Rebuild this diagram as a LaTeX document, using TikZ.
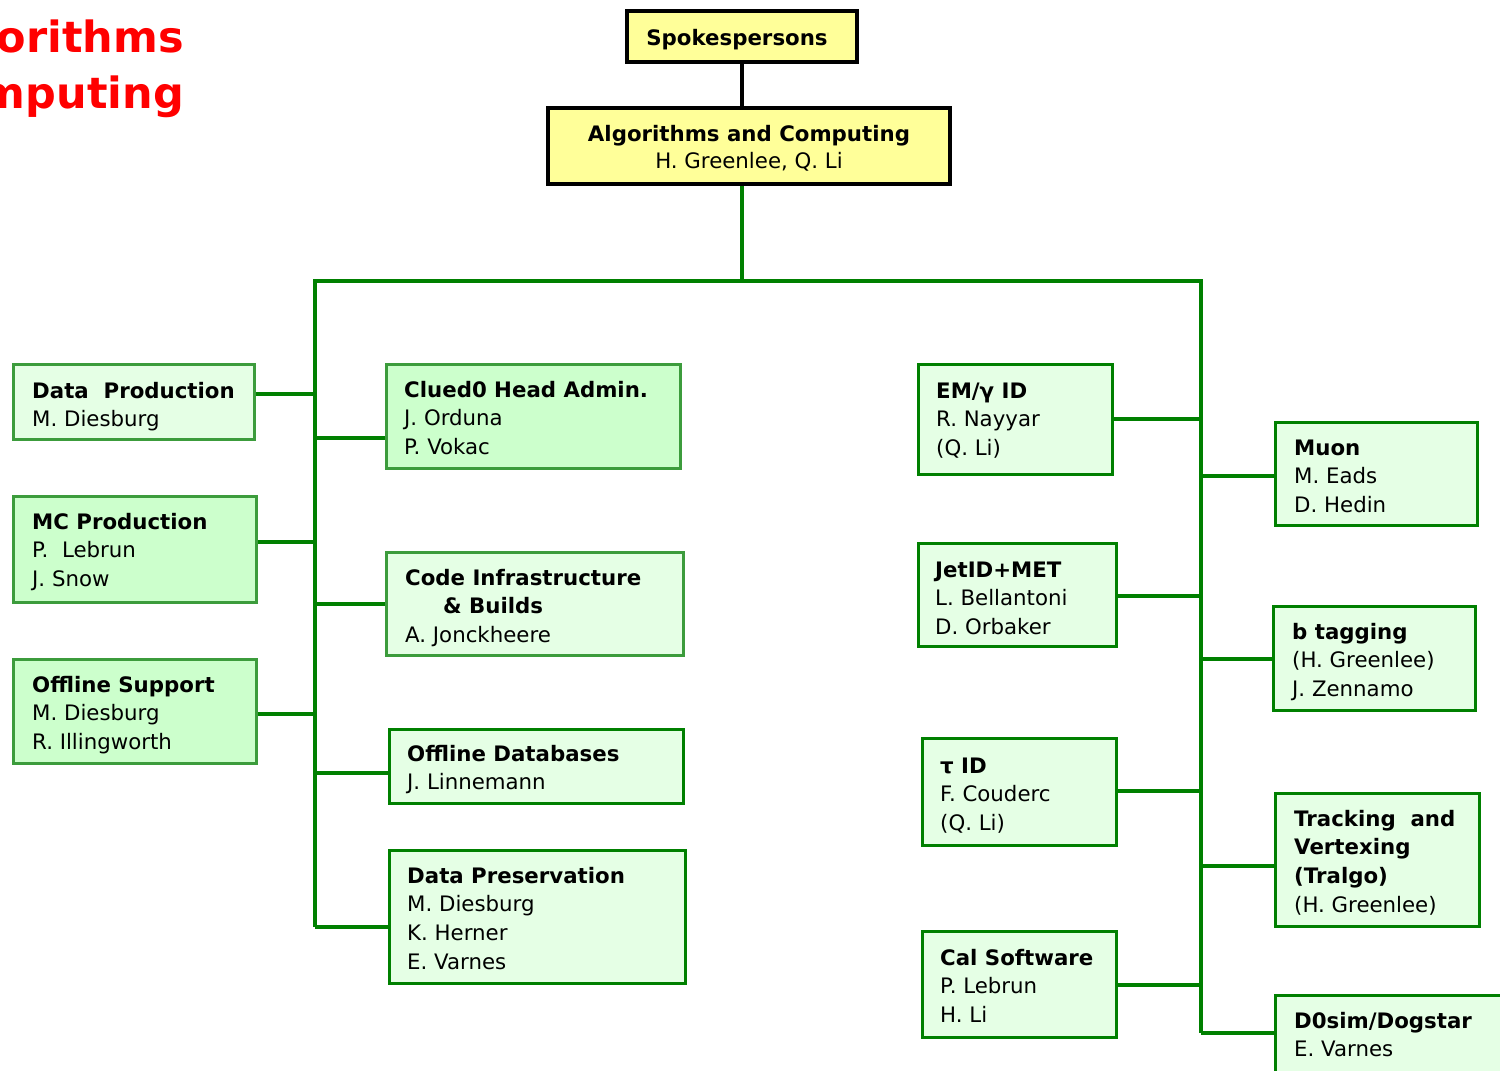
\documentclass[tikz,border=0pt]{standalone}
\usepackage{fontspec}
\setmainfont{DejaVu Sans}
\definecolor{ybox}{HTML}{FFFF99}
\definecolor{gdark}{HTML}{008000}
\definecolor{glight}{HTML}{3C9C3C}
\definecolor{fl}{HTML}{E5FFE5}
\definecolor{fd}{HTML}{CCFFCC}
\definecolor{titlered}{HTML}{FF0000}
\newcommand{\bxt}[1]{\begin{tabular}[t]{@{}l@{}}#1\end{tabular}}
\pgfdeclarelayer{bg}
\pgfsetlayers{bg,main}
\tikzset{
  yb/.style={draw=black, line width=4pt, fill=ybox, rectangle, inner sep=0},
  gbl/.style={draw=glight, line width=3.5pt, fill=fl, rectangle, inner sep=0},
  gbd/.style={draw=glight, line width=3.5pt, fill=fd, rectangle, inner sep=0},
  gbdk/.style={draw=gdark, line width=3.5pt, fill=fl, rectangle, inner sep=0},
  txt/.style={anchor=base west, inner sep=0, font=\fontsize{21.3}{28.7}\selectfont},
  ctxt/.style={anchor=base, inner sep=0, font=\fontsize{21.3}{28.7}\selectfont},
  conn/.style={draw=gdark, line width=3.5pt},
  bconn/.style={draw=black, line width=4pt},
}
\begin{document}
\begin{tikzpicture}[x=1pt,y=-1pt]
\useasboundingbox (0,0) rectangle (1500,1071);
\clip (0,0) rectangle (1500,1071);

% title
\node[anchor=base east, inner sep=0, text=titlered, font=\fontsize{43}{50}\selectfont\bfseries] (t1) at (184,52) {Algorithms};
\node[anchor=base east, inner sep=0, text=titlered, font=\fontsize{43}{50}\selectfont\bfseries] (t2) at (184,108) {Computing};

% top boxes
\node[yb, minimum width=230pt, minimum height=51pt] (sp) at (742,36.5) {};
\node[ctxt, font=\fontsize{21.3}{28.7}\selectfont\bfseries] (spT) at (737,45) {Spokespersons};
\node[yb, minimum width=402pt, minimum height=76pt] (ac) at (749,146) {};
\node[ctxt, font=\fontsize{21.3}{28.7}\selectfont\bfseries] (acT) at (749,141) {Algorithms and Computing};
\node[ctxt] (acT2) at (749,168) {H. Greenlee, Q. Li};

% left column
\node[gbl, minimum width=241pt, minimum height=75pt] (dp) at (134,402) {};
\node[txt] (dpT) at (32,398) {\bxt{\textbf{Data\ \ Production}\\M. Diesburg}};
\node[gbd, minimum width=243pt, minimum height=106pt] (mc) at (135,549.5) {};
\node[txt] (mcT) at (32,529) {\bxt{\textbf{MC Production}\\P.\ \ Lebrun\\J. Snow}};
\node[gbd, minimum width=243pt, minimum height=104pt] (os) at (135,711.5) {};
\node[txt] (osT) at (32,692) {\bxt{\textbf{Offline Support}\\M. Diesburg\\R. Illingworth}};

% middle column
\node[gbd, minimum width=294pt, minimum height=104pt] (cl) at (533.5,416.5) {};
\node[txt] (clT) at (404,397) {\bxt{\textbf{Clued0 Head Admin.}\\J. Orduna\\P. Vokac}};
\node[gbl, minimum width=297pt, minimum height=103pt] (ci) at (535,604) {};
\node[txt] (ciT) at (405,585) {\bxt{\textbf{Code Infrastructure}\\\hspace{38pt}\textbf{\& Builds}\\A. Jonckheere}};
\node[gbdk, minimum width=294pt, minimum height=74pt] (od) at (536.5,766.5) {};
\node[txt] (odT) at (407,761) {\bxt{\textbf{Offline Databases}\\J. Linnemann}};
\node[gbdk, minimum width=296pt, minimum height=133pt] (dpr) at (537.5,917) {};
\node[txt] (dprT) at (407,883) {\bxt{\textbf{Data Preservation}\\M. Diesburg\\K. Herner\\E. Varnes}};

% right-middle column
\node[gbdk, minimum width=194pt, minimum height=110pt] (em) at (1015.5,419.5) {};
\node[txt] (emT) at (936,398) {\bxt{\textbf{EM/γ ID}\\R. Nayyar\\(Q. Li)}};
\node[gbdk, minimum width=198pt, minimum height=103pt] (jet) at (1017.5,595) {};
\node[txt] (jetT) at (935,577) {\bxt{\textbf{JetID+MET}\\L. Bellantoni\\D. Orbaker}};
\node[gbdk, minimum width=194pt, minimum height=107pt] (tau) at (1019.5,792) {};
\node[txt] (tauT) at (940,773) {\bxt{\textbf{τ ID}\\F. Couderc\\(Q. Li)}};
\node[gbdk, minimum width=194pt, minimum height=106pt] (cal) at (1019.5,984.5) {};
\node[txt] (calT) at (940,965) {\bxt{\textbf{Cal Software}\\P. Lebrun\\H. Li}};

% right column
\node[gbdk, minimum width=202pt, minimum height=103pt] (mu) at (1376.5,474) {};
\node[txt] (muT) at (1294,455) {\bxt{\textbf{Muon}\\M. Eads\\D. Hedin}};
\node[gbdk, minimum width=202pt, minimum height=104pt] (bt) at (1374.5,658.5) {};
\node[txt] (btT) at (1292,639) {\bxt{\textbf{b tagging}\\(H. Greenlee)\\J. Zennamo}};
\node[gbdk, minimum width=204pt, minimum height=133pt] (tr) at (1377.5,860) {};
\node[txt] (trT) at (1294,826) {\bxt{\textbf{Tracking\ \ and}\\\textbf{Vertexing}\\\textbf{(Tralgo)}\\(H. Greenlee)}};
\node[gbdk, minimum width=244.5pt, minimum height=94.5pt] (ds) at (1397.75,1042.75) {};
\node[txt] (dsT) at (1294,1028) {\bxt{\textbf{D0sim/Dogstar}\\E. Varnes}};

% trunk coordinates
\coordinate (lt) at (315,281);
\coordinate (lb) at (315,927);
\coordinate (rt) at (1201,281);
\coordinate (rb) at (1201,1033);
\coordinate (hm) at (742,281);

\begin{pgfonlayer}{bg}
\fill[white] (0,0) rectangle (1500,1071);
\draw[bconn] (sp.south) -- (sp.south |- ac.north);
\draw[conn] (hm |- ac.south) -- (hm);
\draw[conn, line join=miter] (lb) -- (lt) -- (rt) -- (rb);
% left connectors
\coordinate (y1) at (0,394); \draw[conn] (dp.east |- y1) -- (lt |- y1);
\coordinate (y2) at (0,542); \draw[conn] (mc.east |- y2) -- (lt |- y2);
\coordinate (y3) at (0,714); \draw[conn] (os.east |- y3) -- (lt |- y3);
\coordinate (y4) at (0,438); \draw[conn] (lt |- y4) -- (cl.west |- y4);
\coordinate (y5) at (0,604); \draw[conn] (lt |- y5) -- (ci.west |- y5);
\coordinate (y6) at (0,773); \draw[conn] (lt |- y6) -- (od.west |- y6);
\coordinate (y7) at (0,927); \draw[conn] (lt |- y7) -- (dpr.west |- y7);
% right connectors
\coordinate (y8) at (0,419); \draw[conn] (em.east |- y8) -- (rt |- y8);
\coordinate (y9) at (0,596); \draw[conn] (jet.east |- y9) -- (rt |- y9);
\coordinate (y10) at (0,791); \draw[conn] (tau.east |- y10) -- (rt |- y10);
\coordinate (y11) at (0,985); \draw[conn] (cal.east |- y11) -- (rt |- y11);
\coordinate (y12) at (0,476); \draw[conn] (rt |- y12) -- (mu.west |- y12);
\coordinate (y13) at (0,659); \draw[conn] (rt |- y13) -- (bt.west |- y13);
\coordinate (y14) at (0,866); \draw[conn] (rt |- y14) -- (tr.west |- y14);
\coordinate (y15) at (0,1033); \draw[conn] (rb) -- (ds.west |- y15);
\end{pgfonlayer}
\end{tikzpicture}
\end{document}
